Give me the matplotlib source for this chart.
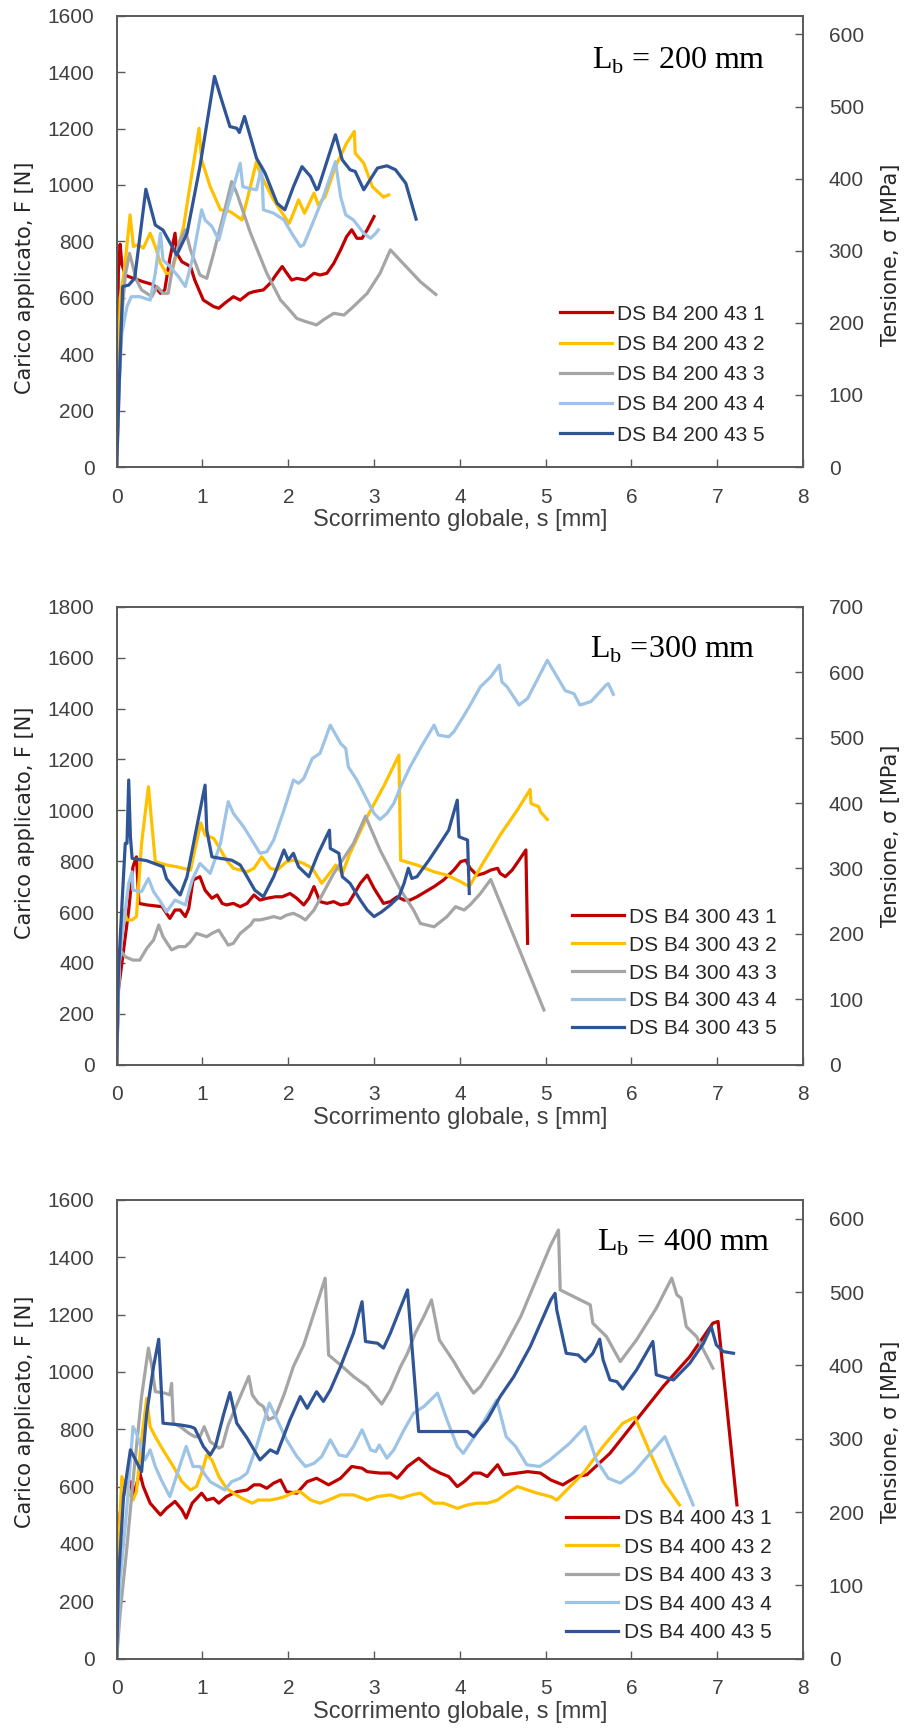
import matplotlib
matplotlib.use("Agg")
import matplotlib.pyplot as plt

plt.rcParams['mathtext.fontset'] = 'custom'
plt.rcParams['mathtext.rm'] = 'Liberation Serif'

# (s [mm], F [N]), Lb = 200 mm
lb200_1 = [(0, 230), (0.02, 700), (0.04, 790), (0.06, 720), (0.1, 680), (0.195, 669), (0.31, 657), (0.43, 646),
           (0.51, 616), (0.56, 628), (0.62, 740), (0.68, 829), (0.70, 758), (0.76, 728), (0.86, 711), (0.91, 663),
           (1.01, 592), (1.13, 569), (1.19, 563), (1.26, 581), (1.36, 604), (1.44, 592), (1.54, 616), (1.60, 622),
           (1.71, 628), (1.79, 652), (1.87, 687), (1.93, 711), (1.97, 693), (2.04, 663), (2.10, 669), (2.20, 663),
           (2.30, 687), (2.37, 681), (2.45, 687), (2.53, 722), (2.61, 770), (2.68, 817), (2.74, 841), (2.80, 811),
           (2.86, 811), (2.92, 841), (3.00, 888)]
lb200_2 = [(0, 0), (0.04, 600), (0.09, 700), (0.156, 894), (0.195, 782), (0.25, 788), (0.31, 776), (0.39, 829),
           (0.45, 782), (0.51, 722), (0.58, 687), (0.64, 687), (0.78, 853), (0.96, 1201), (0.99, 1089), (1.09, 994),
           (1.21, 912), (1.32, 906), (1.38, 894), (1.46, 876), (1.52, 947), (1.63, 1083), (1.67, 1042), (1.75, 994),
           (1.83, 947), (1.93, 900), (2.01, 864), (2.06, 900), (2.12, 947), (2.19, 900), (2.30, 971), (2.35, 929),
           (2.43, 959), (2.55, 1065), (2.68, 1148), (2.77, 1190), (2.78, 1113), (2.88, 1077), (2.98, 994),
           (3.04, 977), (3.11, 957), (3.17, 965)]
lb200_3 = [(0, 0), (0.05, 500), (0.1, 680), (0.15, 758), (0.23, 663), (0.29, 628), (0.41, 604), (0.47, 640),
           (0.54, 616), (0.60, 616), (0.66, 722), (0.74, 805), (0.80, 841), (0.86, 770), (0.97, 681), (1.05, 669),
           (1.13, 758), (1.25, 900), (1.34, 1012), (1.40, 971), (1.56, 829), (1.75, 687), (1.91, 592), (1.98, 569),
           (2.10, 527), (2.20, 516), (2.33, 504), (2.41, 522), (2.53, 545), (2.65, 539), (2.76, 569), (2.92, 616),
           (3.07, 687), (3.19, 770), (3.54, 657), (3.72, 612)]
lb200_4 = [(0, 0), (0.02, 238), (0.06, 474), (0.12, 569), (0.17, 604), (0.27, 604), (0.39, 592), (0.45, 687),
           (0.51, 829), (0.54, 734), (0.62, 711), (0.72, 675), (0.80, 640), (0.89, 746), (0.99, 912), (1.03, 876),
           (1.11, 853), (1.19, 805), (1.26, 888), (1.34, 971), (1.44, 1077), (1.47, 994), (1.54, 988), (1.63, 983),
           (1.69, 1065), (1.71, 912), (1.83, 900), (1.95, 876), (2.04, 829), (2.14, 782), (2.18, 788), (2.30, 876),
           (2.41, 959), (2.55, 1083), (2.61, 959), (2.67, 894), (2.76, 876), (2.88, 829), (2.96, 811), (3.02, 829),
           (3.05, 841)]
lb200_5 = [(0, 0), (0.03, 300), (0.07, 640), (0.14, 645), (0.21, 670), (0.34, 985), (0.45, 858), (0.54, 840),
           (0.70, 752), (0.82, 829), (0.97, 1065), (1.14, 1385), (1.21, 1314), (1.32, 1207), (1.40, 1201),
           (1.43, 1186), (1.49, 1243), (1.63, 1095), (1.73, 1042), (1.87, 935), (1.96, 912), (2.06, 994),
           (2.16, 1065), (2.26, 1030), (2.33, 983), (2.35, 988), (2.55, 1178), (2.63, 1089), (2.72, 1054),
           (2.78, 1048), (2.88, 983), (3.04, 1060), (3.15, 1068), (3.25, 1054), (3.37, 1006), (3.49, 879)]

# Lb = 300 mm
lb300_1 = [(0, 0), (0.02, 293), (0.08, 450), (0.14, 608), (0.19, 778), (0.23, 817), (0.26, 634), (0.35, 628),
           (0.53, 621), (0.58, 595), (0.62, 575), (0.68, 608), (0.74, 608), (0.80, 582), (0.84, 614), (0.89, 726),
           (0.97, 739), (1.03, 686), (1.11, 654), (1.17, 667), (1.23, 634), (1.28, 628), (1.36, 634), (1.44, 621),
           (1.52, 634), (1.60, 667), (1.67, 647), (1.75, 654), (1.85, 660), (1.93, 660), (2.02, 673), (2.10, 654),
           (2.18, 628), (2.24, 654), (2.30, 700), (2.37, 641), (2.45, 634), (2.53, 641), (2.61, 628), (2.70, 634),
           (2.76, 667), (2.84, 713), (2.92, 745), (3.00, 693), (3.11, 634), (3.19, 641), (3.27, 660), (3.35, 647),
           (3.42, 647), (3.50, 660), (3.60, 680), (3.70, 700), (3.81, 726), (3.93, 765), (4.01, 798), (4.07, 804),
           (4.12, 772), (4.20, 745), (4.28, 752), (4.36, 765), (4.44, 772), (4.47, 752), (4.53, 739), (4.61, 765),
           (4.69, 804), (4.77, 844), (4.79, 477)]
lb300_2 = [(0, 58), (0.03, 400), (0.08, 608), (0.12, 569), (0.18, 569), (0.23, 582), (0.29, 870), (0.37, 1093),
           (0.45, 798), (0.58, 785), (0.70, 778), (0.86, 765), (0.98, 950), (1.03, 903), (1.13, 890), (1.19, 857),
           (1.28, 804), (1.36, 772), (1.44, 765), (1.52, 758), (1.60, 772), (1.69, 817), (1.79, 772), (1.87, 765),
           (1.98, 798), (2.06, 804), (2.18, 791), (2.28, 772), (2.39, 713), (2.51, 765), (2.55, 785), (2.63, 752),
           (2.72, 831), (2.92, 975), (3.11, 1093), (3.29, 1217), (3.31, 804), (3.50, 785), (3.70, 758), (3.85, 745),
           (4.01, 719), (4.11, 700), (4.28, 798), (4.47, 903), (4.67, 1001), (4.82, 1082), (4.83, 1027),
           (4.92, 1014), (4.94, 994), (5.02, 964)]
lb300_3 = [(0, 0), (0.02, 300), (0.04, 451), (0.10, 424), (0.19, 411), (0.27, 411), (0.35, 457), (0.43, 490),
           (0.49, 549), (0.54, 503), (0.64, 451), (0.72, 464), (0.80, 464), (0.86, 483), (0.93, 516), (1.05, 503),
           (1.11, 516), (1.19, 529), (1.30, 470), (1.36, 477), (1.44, 516), (1.56, 549), (1.60, 569), (1.67, 569),
           (1.75, 575), (1.83, 582), (1.91, 575), (1.98, 588), (2.06, 595), (2.14, 582), (2.20, 569), (2.30, 608),
           (2.53, 752), (2.76, 870), (2.90, 977), (3.07, 844), (3.31, 686), (3.46, 608), (3.54, 555), (3.70, 542),
           (3.85, 582), (3.95, 621), (4.05, 608), (4.12, 628), (4.24, 673), (4.36, 728), (4.98, 215)]
lb300_4 = [(0, 0), (0.03, 400), (0.08, 555), (0.14, 713), (0.18, 758), (0.19, 686), (0.29, 680), (0.37, 732),
           (0.43, 680), (0.51, 641), (0.58, 601), (0.68, 647), (0.80, 628), (0.88, 726), (0.97, 791), (1.09, 752),
           (1.21, 870), (1.30, 1034), (1.36, 988), (1.48, 935), (1.60, 870), (1.67, 831), (1.75, 837), (1.83, 883),
           (1.95, 1001), (2.06, 1119), (2.12, 1106), (2.18, 1125), (2.28, 1204), (2.37, 1224), (2.49, 1335),
           (2.61, 1263), (2.67, 1243), (2.70, 1171), (2.80, 1119), (2.92, 1040), (3.00, 988), (3.07, 964),
           (3.15, 988), (3.23, 1027), (3.31, 1093), (3.42, 1171), (3.56, 1256), (3.70, 1335), (3.75, 1296),
           (3.87, 1289), (3.93, 1309), (4.05, 1374), (4.12, 1414), (4.24, 1486), (4.36, 1525), (4.46, 1571),
           (4.49, 1505), (4.55, 1486), (4.69, 1414), (4.79, 1440), (4.90, 1512), (5.02, 1590), (5.23, 1470),
           (5.33, 1459), (5.40, 1414), (5.53, 1428), (5.70, 1491), (5.73, 1498), (5.79, 1456)]
lb300_5 = [(0, 0), (0.02, 359), (0.06, 621), (0.10, 870), (0.12, 870), (0.14, 1119), (0.16, 896), (0.18, 811),
           (0.35, 802), (0.54, 778), (0.58, 732), (0.64, 706), (0.74, 667), (0.82, 739), (0.93, 929), (1.03, 1099),
           (1.05, 922), (1.11, 817), (1.21, 811), (1.34, 804), (1.44, 785), (1.52, 739), (1.61, 686), (1.71, 660),
           (1.83, 739), (1.95, 844), (2.00, 804), (2.06, 831), (2.12, 778), (2.24, 739), (2.35, 831), (2.48, 922),
           (2.49, 850), (2.59, 831), (2.63, 739), (2.72, 713), (2.84, 647), (2.92, 608), (3.00, 582), (3.09, 601),
           (3.19, 628), (3.29, 660), (3.35, 713), (3.40, 772), (3.44, 732), (3.50, 739), (3.64, 804), (3.77, 870),
           (3.87, 922), (3.97, 1040), (3.99, 896), (4.09, 883), (4.11, 673)]

# Lb = 400 mm
lb400_1 = [(0, 0), (0.02, 300), (0.04, 507), (0.10, 600), (0.16, 617), (0.19, 571), (0.23, 606), (0.27, 647),
           (0.31, 600), (0.39, 542), (0.51, 501), (0.58, 524), (0.68, 548), (0.76, 519), (0.81, 490), (0.88, 542),
           (0.99, 577), (1.05, 553), (1.13, 559), (1.19, 542), (1.28, 565), (1.40, 582), (1.52, 588), (1.60, 606),
           (1.67, 606), (1.75, 594), (1.83, 612), (1.91, 623), (1.98, 582), (2.10, 577), (2.22, 617), (2.33, 629),
           (2.47, 606), (2.61, 629), (2.74, 670), (2.86, 664), (2.92, 652), (3.07, 647), (3.19, 647), (3.27, 629),
           (3.39, 670), (3.52, 699), (3.66, 664), (3.77, 647), (3.87, 635), (3.97, 600), (4.05, 617), (4.16, 647),
           (4.24, 647), (4.32, 635), (4.44, 676), (4.51, 641), (4.67, 647), (4.79, 652), (4.94, 647), (5.06, 623),
           (5.20, 606), (5.36, 635), (5.48, 641), (5.75, 716), (6.06, 833), (6.37, 949), (6.68, 1053),
           (6.95, 1170), (7.01, 1176), (7.23, 536)]
lb400_2 = [(0, 0), (0.02, 367), (0.06, 635), (0.10, 600), (0.19, 553), (0.23, 582), (0.29, 763), (0.35, 908),
           (0.39, 809), (0.45, 774), (0.54, 728), (0.66, 670), (0.76, 617), (0.86, 588), (0.93, 600), (0.99, 647),
           (1.05, 710), (1.11, 693), (1.19, 635), (1.28, 594), (1.36, 577), (1.46, 559), (1.58, 542), (1.65, 553),
           (1.79, 553), (1.89, 559), (1.96, 565), (2.08, 582), (2.14, 582), (2.26, 553), (2.37, 542), (2.47, 553),
           (2.61, 571), (2.76, 571), (2.92, 553), (3.04, 565), (3.19, 571), (3.31, 559), (3.44, 571), (3.54, 577),
           (3.70, 542), (3.81, 542), (3.97, 524), (4.09, 536), (4.20, 542), (4.32, 542), (4.44, 553), (4.55, 577),
           (4.67, 600), (4.79, 588), (4.90, 577), (5.06, 565), (5.13, 553), (5.44, 647), (5.67, 740), (5.90, 821),
           (6.04, 842), (6.22, 716), (6.37, 617), (6.56, 536)]
lb400_3 = [(0, 0), (0.04, 158), (0.12, 391), (0.20, 650), (0.29, 914), (0.37, 1083), (0.41, 1019), (0.45, 931),
           (0.56, 926), (0.62, 920), (0.64, 960), (0.66, 821), (0.74, 809), (0.84, 786), (0.91, 774), (0.97, 774),
           (1.02, 809), (1.09, 757), (1.19, 734), (1.23, 740), (1.30, 815), (1.44, 914), (1.54, 984), (1.58, 920),
           (1.65, 891), (1.71, 879), (1.77, 833), (1.85, 845), (1.95, 920), (2.06, 1019), (2.18, 1094),
           (2.30, 1205), (2.43, 1327), (2.47, 1059), (2.61, 1024), (2.76, 984), (2.92, 949), (3.00, 920),
           (3.09, 888), (3.19, 937), (3.31, 1019), (3.39, 1065), (3.48, 1135), (3.58, 1193), (3.67, 1251),
           (3.76, 1112), (3.93, 1036), (4.03, 984), (4.16, 926), (4.24, 949), (4.47, 1059), (4.71, 1193),
           (5.06, 1443), (5.15, 1495), (5.17, 1286), (5.52, 1234), (5.55, 1170), (5.71, 1123), (5.87, 1036),
           (6.06, 1112), (6.29, 1222), (6.47, 1327), (6.53, 1269), (6.58, 1257), (6.64, 1158), (6.76, 1123),
           (6.95, 1013)]
lb400_4 = [(0, 0), (0.04, 274), (0.12, 530), (0.19, 809), (0.23, 786), (0.33, 693), (0.39, 728), (0.45, 670),
           (0.52, 623), (0.62, 565), (0.72, 658), (0.81, 740), (0.89, 670), (0.97, 670), (1.03, 641), (1.09, 617),
           (1.19, 600), (1.26, 588), (1.34, 617), (1.44, 629), (1.52, 647), (1.63, 740), (1.78, 891), (1.87, 833),
           (1.98, 763), (2.10, 705), (2.20, 670), (2.30, 681), (2.39, 705), (2.49, 763), (2.59, 710), (2.68, 705),
           (2.76, 740), (2.86, 798), (2.96, 728), (3.02, 722), (3.06, 745), (3.15, 699), (3.23, 728), (3.35, 798),
           (3.46, 856), (3.58, 879), (3.74, 926), (3.85, 833), (3.97, 740), (4.04, 716), (4.17, 774), (4.43, 902),
           (4.54, 774), (4.65, 740), (4.78, 676), (4.93, 670), (5.05, 693), (5.28, 751), (5.46, 809), (5.59, 693),
           (5.73, 629), (5.87, 612), (6.02, 647), (6.22, 716), (6.39, 774), (6.72, 536)]
lb400_5 = [(0, 0), (0.02, 274), (0.08, 565), (0.16, 728), (0.23, 687), (0.29, 652), (0.35, 856), (0.43, 1019),
           (0.49, 1114), (0.54, 821), (0.74, 815), (0.86, 809), (0.91, 803), (1.01, 740), (1.09, 710), (1.15, 740),
           (1.25, 856), (1.32, 928), (1.40, 821), (1.52, 769), (1.67, 693), (1.79, 728), (1.87, 716), (2.02, 833),
           (2.14, 914), (2.22, 873), (2.33, 931), (2.41, 897), (2.49, 937), (2.61, 1019), (2.76, 1135),
           (2.86, 1245), (2.90, 1106), (3.04, 1100), (3.11, 1083), (3.19, 1135), (3.39, 1286), (3.52, 792),
           (4.09, 792), (4.16, 774), (4.32, 833), (4.47, 914), (4.63, 984), (4.82, 1088), (5.06, 1251),
           (5.11, 1274), (5.13, 1216), (5.24, 1065), (5.38, 1059), (5.46, 1036), (5.55, 1065), (5.63, 1114),
           (5.67, 1042), (5.75, 972), (5.83, 966), (5.90, 940), (6.06, 1007), (6.25, 1106), (6.29, 990),
           (6.49, 972), (6.68, 1030), (6.84, 1100), (6.93, 1158), (6.99, 1094), (7.07, 1071), (7.19, 1065)]

labels200 = ["DS B4 200 43 1", "DS B4 200 43 2", "DS B4 200 43 3", "DS B4 200 43 4", "DS B4 200 43 5"]
labels300 = ["DS B4 300 43 1", "DS B4 300 43 2", "DS B4 300 43 3", "DS B4 300 43 4", "DS B4 300 43 5"]
labels400 = ["DS B4 400 43 1", "DS B4 400 43 2", "DS B4 400 43 3", "DS B4 400 43 4", "DS B4 400 43 5"]

colors = ['#C00000', '#FFC000', '#A5A5A5', '#9DC3E6', '#2F5597']
txt = '#404040'
spine = '#595959'

# bottom, height, F max, sigma max, series, labels, title, title pos, legend anchor, legend spacing, ylabel pos
panels = [
    (0.7297, 0.2612, 1600, 626, [lb200_1, lb200_2, lb200_3, lb200_4, lb200_5], labels200,
     r"L$_{\mathrm{b}}$ = 200 mm", (0.945, 0.90), (0.646, 0.360), 0.54, (0.42, 0.47)),
    (0.3839, 0.2649, 1800, 700, [lb300_1, lb300_2, lb300_3, lb300_4, lb300_5], labels300,
     r"L$_{\mathrm{b}}$ =300 mm", (0.93, 0.906), (0.663, 0.343), 0.43, (0.528, 0.50)),
    (0.0402, 0.2654, 1600, 626, [lb400_1, lb400_2, lb400_3, lb400_4, lb400_5], labels400,
     r"L$_{\mathrm{b}}$ = 400 mm", (0.953, 0.906), (0.655, 0.326), 0.46, (0.538, 0.495)),
]

fig = plt.figure(figsize=(9.06, 17.28), dpi=100)

for bottom, height, fmax, smax, series, labels, title, tpos, lpos, lspace, ylpos in panels:
    ax = fig.add_axes([0.1288, bottom, 0.7575, height])
    for pts, c, lab in zip(series, colors, labels):
        s = [p[0] for p in pts]
        F = [p[1] for p in pts]
        ax.plot(s, F, color=c, lw=2.3, label=lab, solid_joinstyle='round')
    ax.set_xlim(0, 8)
    ax.set_ylim(0, fmax)
    ax.set_xticks(range(0, 9))
    ax.set_yticks(range(0, fmax + 1, 200))
    ax.tick_params(direction='in', length=6, width=1, color=spine, labelcolor=txt, labelsize=15,
                   labelfontfamily='Liberation Sans')
    ax.tick_params(axis='y', pad=16)
    ax.tick_params(axis='x', pad=15)
    for sp in ax.spines.values():
        sp.set_color(spine)
        sp.set_linewidth(1.2)
    ax.set_xlabel("Scorrimento globale, s [mm]", fontsize=17, family='Liberation Sans', color=txt)
    ax.xaxis.set_label_coords(0.5, -0.093)
    ax.set_ylabel("Carico applicato, F [N]", fontsize=15, family='DejaVu Sans', color='#262626')
    ax.yaxis.set_label_coords(-0.119, ylpos[0])

    ax2 = ax.twinx()
    ax2.set_ylim(0, smax)
    ax2.set_yticks(range(0, 601, 100) if smax < 700 else range(0, 701, 100))
    ax2.tick_params(direction='in', length=6, width=1, color=spine, labelcolor=txt, labelsize=15,
                    labelfontfamily='Liberation Sans', pad=18.5)
    for sp in ax2.spines.values():
        sp.set_color(spine)
        sp.set_linewidth(1.2)
    ax2.set_ylabel("Tensione, σ [MPa]", fontsize=15, family='DejaVu Sans', color='#262626')
    ax2.yaxis.set_label_coords(1.114, ylpos[1])

    ax.text(tpos[0], tpos[1], title, transform=ax.transAxes, ha='right', va='center',
            fontsize=23, family='Liberation Serif', color='black')

    ax.legend(loc='upper left', bbox_to_anchor=lpos, frameon=False, prop={'family': 'Liberation Sans', 'size': 15},
              handlelength=2.5, handletextpad=0.25, labelspacing=lspace, borderpad=0, borderaxespad=0,
              labelcolor='#262626')

fig.savefig("out.png", dpi=100)
